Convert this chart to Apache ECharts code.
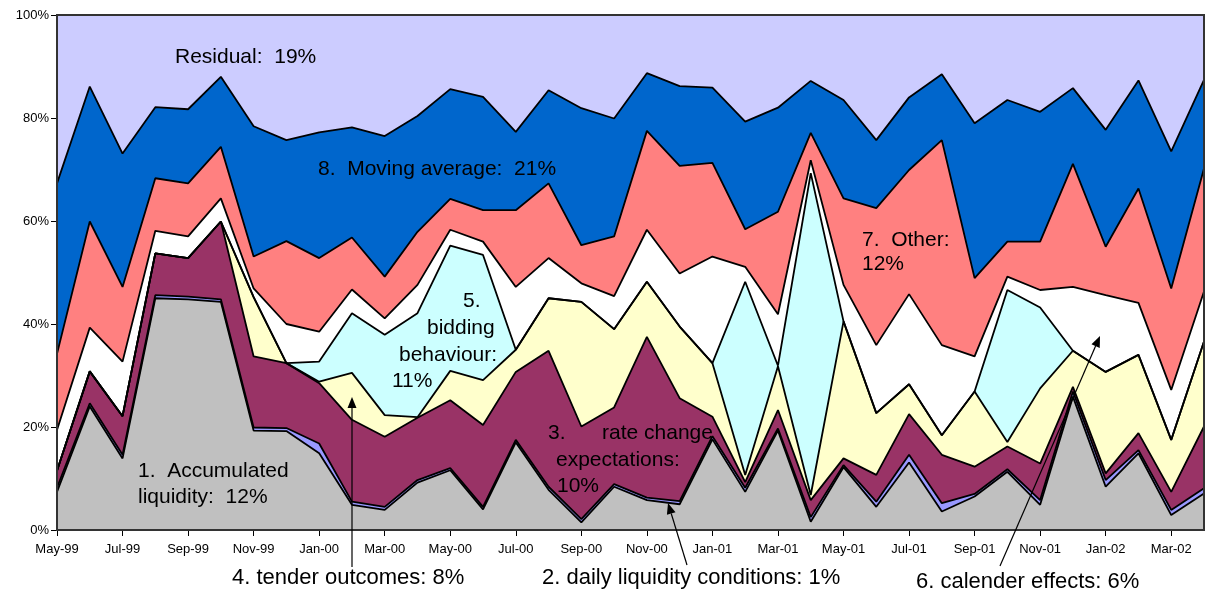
<!DOCTYPE html>
<html>
<head>
	<meta charset="utf-8">
	<title>Decomposition</title>
	<style type="text/css">
		body { margin: 0; padding: 0; background: #fff; }
		#main { width: 1206px; height: 595px; }
	</style>
	<script src="https://cdn.jsdelivr.net/npm/echarts@6/dist/echarts.min.js"></script>
</head>
<body>
	<div id="main"></div>
	<script type="text/javascript">

	// months, one point per month
	var months = ['May-99','Jun-99','Jul-99','Aug-99','Sep-99','Oct-99','Nov-99','Dec-99',
		'Jan-00','Feb-00','Mar-00','Apr-00','May-00','Jun-00','Jul-00','Aug-00','Sep-00','Oct-00','Nov-00','Dec-00',
		'Jan-01','Feb-01','Mar-01','Apr-01','May-01','Jun-01','Jul-01','Aug-01','Sep-01','Oct-01','Nov-01','Dec-01',
		'Jan-02','Feb-02','Mar-02','Apr-02'];

	// shares in percent, bottom to top
	var accumulated = [7.4,24.0,13.9,45.0,44.8,44.3,19.3,19.2,14.9,4.9,3.9,9.2,11.6,4.0,17.0,7.8,1.5,8.4,5.8,5.0,17.6,7.4,19.3,1.6,12.2,4.5,13.1,3.6,6.5,11.3,4.9,25.9,8.4,14.9,2.9,7.1];
	var daily = [0.8,0.6,0.7,0.6,0.5,0.5,0.6,0.6,1.9,0.6,0.6,0.5,0.4,0.5,0.5,0.6,0.6,0.5,0.5,0.6,0.6,0.8,0.4,0.9,0.4,1.0,1.5,1.6,0.5,0.5,0.9,1.0,1.3,0.6,1.0,1.0];
	var rateChange = [3.3,6.2,7.5,8.1,7.5,15.1,13.8,12.6,11.7,15.9,13.6,12.1,13.2,15.9,13.2,26.4,18.0,14.9,31.2,20.0,3.8,1.1,3.6,3.3,1.3,5.2,7.9,9.4,5.3,4.4,7.1,0.9,1.3,3.3,3.5,12.0];
	var tender = [0,0,0,0,0,0,11.5,0,0.3,9.1,4.2,0.1,5.7,8.7,4.3,10.2,24.2,15.2,10.7,13.9,10.4,1.4,8.5,1.0,26.6,12.0,5.8,3.8,14.6,0.9,14.6,7.0,19.7,15.2,10.1,16.5];
	var bidding = [0,0,0,0,0,0,0,0,3.9,11.6,15.6,20.2,24.3,24.3,0,0,0,0,0,0,0,37.5,0.1,62.5,0,0,0,0,0,29.5,15.7,0,0,0,0,0];
	var calendar = [7.9,8.5,10.6,4.4,4.2,4.5,1.7,7.6,5.8,4.6,3.2,5.5,3.1,2.6,12.2,7.8,3.6,6.4,10.1,10.3,20.7,2.9,10.0,2.5,7.1,13.2,17.5,17.5,6.8,2.6,3.4,12.4,14.9,10.1,9.7,9.7];
	var other = [14.8,20.6,14.5,10.2,10.3,10.0,6.2,16.1,14.3,10.1,8.1,10.3,6.0,6.1,14.9,14.5,7.4,11.6,19.2,20.9,18.2,7.3,19.9,5.3,16.8,26.6,24.1,39.8,15.2,6.8,9.4,23.9,9.4,22.2,19.7,23.9];
	var movingAvg = [33.1,26.2,25.9,13.8,14.4,13.6,25.3,19.6,24.4,21.4,27.3,22.5,21.3,22.0,15.2,18.1,26.6,22.9,11.2,15.5,14.6,20.9,20.2,10.1,19.1,13.2,14.1,12.8,30.1,27.5,25.2,14.7,22.7,21.0,26.6,17.2];
	var residual = [32.7,13.9,26.9,17.9,18.3,12.0,21.6,24.3,22.8,21.8,23.5,19.6,14.4,15.9,22.7,14.6,18.1,20.1,11.3,13.8,14.1,20.7,18.0,12.8,16.5,24.3,16.0,11.5,21.0,16.5,18.8,14.2,22.3,12.7,26.5,12.6];

	var layers = [
		['Accumulated liquidity', accumulated, '#C0C0C0'],
		['Daily liquidity conditions', daily, '#9999FF'],
		['Rate change expectations', rateChange, '#993366'],
		['Tender outcomes', tender, '#FFFFCC'],
		['Bidding behaviour', bidding, '#CCFFFF'],
		['Calender effects', calendar, '#FFFFFF'],
		['Other', other, '#FF8080'],
		['Moving average', movingAvg, '#0066CC'],
		['Residual', residual, '#CCCCFF']
	];

	var font = '"Liberation Sans", Arial, sans-serif';

	var series = layers.map(function (l) {
		return {
			name: l[0],
			type: 'line',
			stack: 'all',
			data: l[1],
			symbol: 'none',
			z: 2,
			lineStyle: { color: '#000', width: 1.8 },
			areaStyle: { color: l[2], opacity: 1 }
		};
	});

	// text on the chart
	function txt(x, y, s, size) {
		return {
			type: 'text', z: 100, x: x, y: y,
			style: { text: s, fill: '#000', font: (size || 21) + 'px ' + font, verticalAlign: 'middle' }
		};
	}

	// arrow from tail to tip
	function arrow(x1, y1, x2, y2) {
		var a = Math.atan2(y2 - y1, x2 - x1);
		var len = 11, half = 4.5;
		var bx = x2 - len * Math.cos(a), by = y2 - len * Math.sin(a);
		var nx = -Math.sin(a) * half, ny = Math.cos(a) * half;
		return [
			{ type: 'line', z: 100, shape: { x1: x1, y1: y1, x2: bx, y2: by }, style: { stroke: '#000', lineWidth: 1.2 } },
			{ type: 'polygon', z: 100, shape: { points: [[x2, y2], [bx + nx, by + ny], [bx - nx, by - ny]] }, style: { fill: '#000' } }
		];
	}

	var graphics = [
		{ type: 'rect', z: 90, shape: { x: 57, y: 15, width: 1147, height: 515 }, style: { fill: null, stroke: '#333', lineWidth: 2 } },
		txt(175, 57, 'Residual:  19%'),
		txt(318, 169, '8.  Moving average:  21%'),
		txt(862, 240, '7.  Other:'),
		txt(862, 264, '12%'),
		txt(463, 301, '5.'),
		txt(427, 328, 'bidding'),
		txt(399, 355, 'behaviour:'),
		txt(392, 381, '11%'),
		txt(548, 433, '3.'),
		txt(602, 433, 'rate change'),
		txt(556, 460, 'expectations:'),
		txt(557, 486, '10%'),
		txt(138, 471, '1.  Accumulated'),
		txt(138, 497, 'liquidity:  12%'),
		txt(232, 578, '4. tender outcomes: 8%', 22),
		txt(542, 578, '2. daily liquidity conditions: 1%', 22),
		txt(916, 582, '6. calender effects: 6%', 22)
	].concat(arrow(352, 567, 352, 397))
	 .concat(arrow(687, 565, 668, 503))
	 .concat(arrow(1000, 566, 1100, 336));

	var option = {
		animation: false,
		backgroundColor: '#fff',
		grid: { left: 57, right: 2, top: 15, bottom: 65 },
		xAxis: {
			type: 'category',
			data: months,
			boundaryGap: false,
			axisLine: { lineStyle: { color: '#000', width: 1.5 } },
			axisTick: { interval: 1, length: 6, lineStyle: { color: '#000' } },
			axisLabel: { interval: 1, color: '#000', fontFamily: font, fontSize: 13, margin: 13 },
			splitLine: { show: false }
		},
		yAxis: {
			type: 'value',
			min: 0, max: 100, interval: 20,
			axisLine: { show: true, lineStyle: { color: '#000', width: 1.5 } },
			axisTick: { show: true, length: 6, lineStyle: { color: '#000' } },
			axisLabel: { formatter: '{value}%', color: '#000', fontFamily: font, fontSize: 13, margin: 8 },
			splitLine: { show: false }
		},
		series: series,
		graphic: graphics
	};

	var myChart = echarts.init(document.getElementById('main'));
	myChart.setOption(option);

	</script>
</body>
</html>
